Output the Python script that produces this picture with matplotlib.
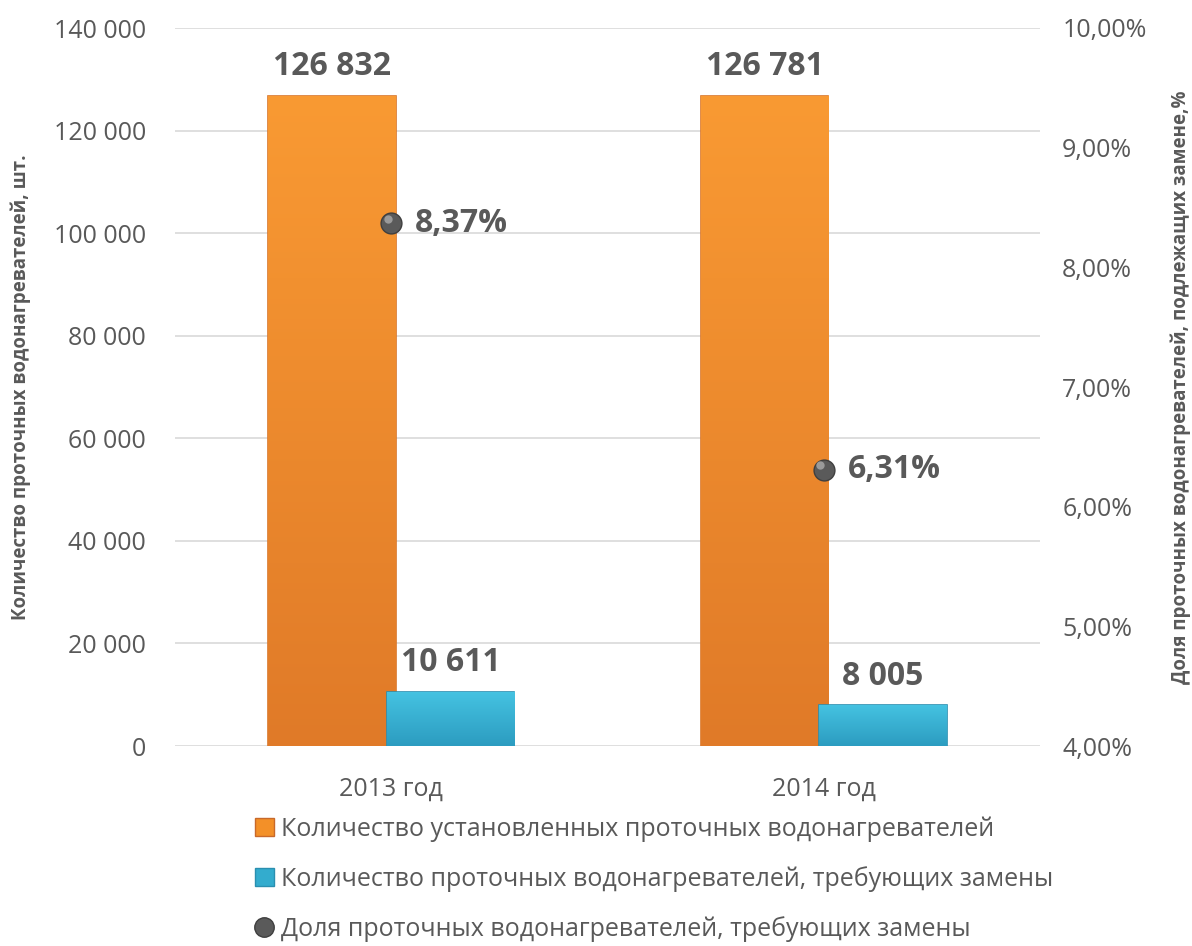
import matplotlib

matplotlib.use("Agg")
import matplotlib.pyplot as plt
import numpy as np
from matplotlib.colors import LinearSegmentedColormap
from matplotlib.lines import Line2D
from matplotlib.patches import Patch
from matplotlib.ticker import FuncFormatter

plt.rcParams["font.family"] = ["Open Sans", "DejaVu Sans"]

years = ["2013 год", "2014 год"]
installed = [126832, 126781]
to_replace = [10611, 8005]
share_pct = [8.37, 6.31]

label_installed = "Количество установленных проточных водонагревателей"
label_replace = "Количество проточных водонагревателей, требующих замены"
label_share = "Доля проточных водонагревателей, требующих замены"
ylabel_left = "Количество проточных водонагревателей, шт."
ylabel_right = "Доля проточных водонагревателей, подлежащих замене,%"

GRAY = "#595959"
ORANGE = "#F39028"
BLUE = "#33ACCE"


def space_thousands(v):
    return f"{int(round(v)):,}".replace(",", " ")


def gradient_bars(ax, bars, top, bottom):
    cmap = LinearSegmentedColormap.from_list("g", [bottom, top])
    grad = np.linspace(0, 1, 256).reshape(-1, 1)
    for bar in bars:
        x, y = bar.get_x(), bar.get_y()
        w, h = bar.get_width(), bar.get_height()
        im = ax.imshow(grad, cmap=cmap, aspect="auto", origin="lower",
                       extent=(x, x + w, y, y + h), zorder=bar.get_zorder())
        im.set_clip_path(bar)
        bar.set_facecolor("none")


fig = plt.figure(figsize=(11.92, 9.46), dpi=100)
ax = fig.add_axes([175 / 1192, 1 - 746 / 946, 865 / 1192, 718 / 946])

x = np.arange(len(years))
width = 0.294
off = 0.137

b1 = ax.bar(x - off, installed, width, color=ORANGE, edgecolor="#D9772A", linewidth=1.2, zorder=3)
b2 = ax.bar(x + off, to_replace, width, color=BLUE, edgecolor="#2A8FB0", linewidth=1.2, zorder=4)
gradient_bars(ax, b1, "#F99A33", "#E07A28")
gradient_bars(ax, b2, "#45C3E2", "#2C9CC0")

ax.set_xlim(-0.5, 1.5)
ax.set_ylim(0, 140000)
ax.set_yticks(np.arange(0, 140001, 20000))
ax.yaxis.set_major_formatter(FuncFormatter(lambda v, p: space_thousands(v)))
ax.set_xticks(x)
ax.set_xticklabels(years)
ax.tick_params(axis="both", length=0, labelsize=18, labelcolor=GRAY)
ax.tick_params(axis="y", pad=21)
ax.tick_params(axis="x", pad=22)
ax.grid(axis="y", color="#D9D9D9", linewidth=1.2, zorder=0)
ax.set_axisbelow(True)
for s in ax.spines.values():
    s.set_visible(False)
ax.set_ylabel(ylabel_left, fontsize=13.5, fontweight="bold", color=GRAY)
ax.yaxis.set_label_coords(-0.167, 0.5)

for i in range(len(years)):
    ax.text(x[i] - off, installed[i] + 2400, space_thousands(installed[i]),
            ha="center", va="bottom", fontsize=23, fontweight="bold", color=GRAY, zorder=6)
    ax.text(x[i] + off, to_replace[i] + 2400, space_thousands(to_replace[i]),
            ha="center", va="bottom", fontsize=23, fontweight="bold", color=GRAY, zorder=6)

ax2 = ax.twinx()
ax2.set_ylim(4, 10)
ax2.set_yticks(np.arange(4, 10.01, 1))
ax2.yaxis.set_major_formatter(FuncFormatter(lambda v, p: f"{v:.2f}".replace(".", ",") + "%"))
ax2.tick_params(axis="y", length=0, labelsize=18, labelcolor=GRAY, pad=16)
for s in ax2.spines.values():
    s.set_visible(False)
ax2.plot(x, share_pct, linestyle="none", marker="o", markersize=15,
         markerfacecolor="#5A5A5A", markeredgecolor="#3F3F3F", zorder=5)
ax2.plot(x - 0.008, np.array(share_pct) + 0.035, linestyle="none", marker="o", markersize=6,
         markerfacecolor="#9A9A9A", markeredgecolor="none", zorder=6)
for i in range(len(years)):
    ax2.text(x[i] + 0.055, share_pct[i], f"{share_pct[i]:.2f}".replace(".", ",") + "%",
             ha="left", va="center", fontsize=23, fontweight="bold", color=GRAY)
ax2.set_ylabel(ylabel_right, fontsize=13.5, fontweight="bold", color=GRAY)
ax2.yaxis.set_label_coords(1.151, 0.5)

handles = [
    Patch(facecolor=ORANGE, edgecolor="#C8692A", label=label_installed),
    Patch(facecolor=BLUE, edgecolor="#2A8FB0", label=label_replace),
    Line2D([], [], linestyle="none", marker="o", markersize=14, markerfacecolor="#5A5A5A",
           markeredgecolor="#3F3F3F", label=label_share),
]
fig.legend(handles=handles, loc="upper left", bbox_to_anchor=(255 / 1192, 1 - 816 / 946),
           frameon=False, fontsize=18, labelcolor=GRAY, handlelength=0.75, handleheight=0.75,
           handletextpad=0.3, labelspacing=0.98, borderpad=0, borderaxespad=0)

fig.savefig("out.png", dpi=100)
